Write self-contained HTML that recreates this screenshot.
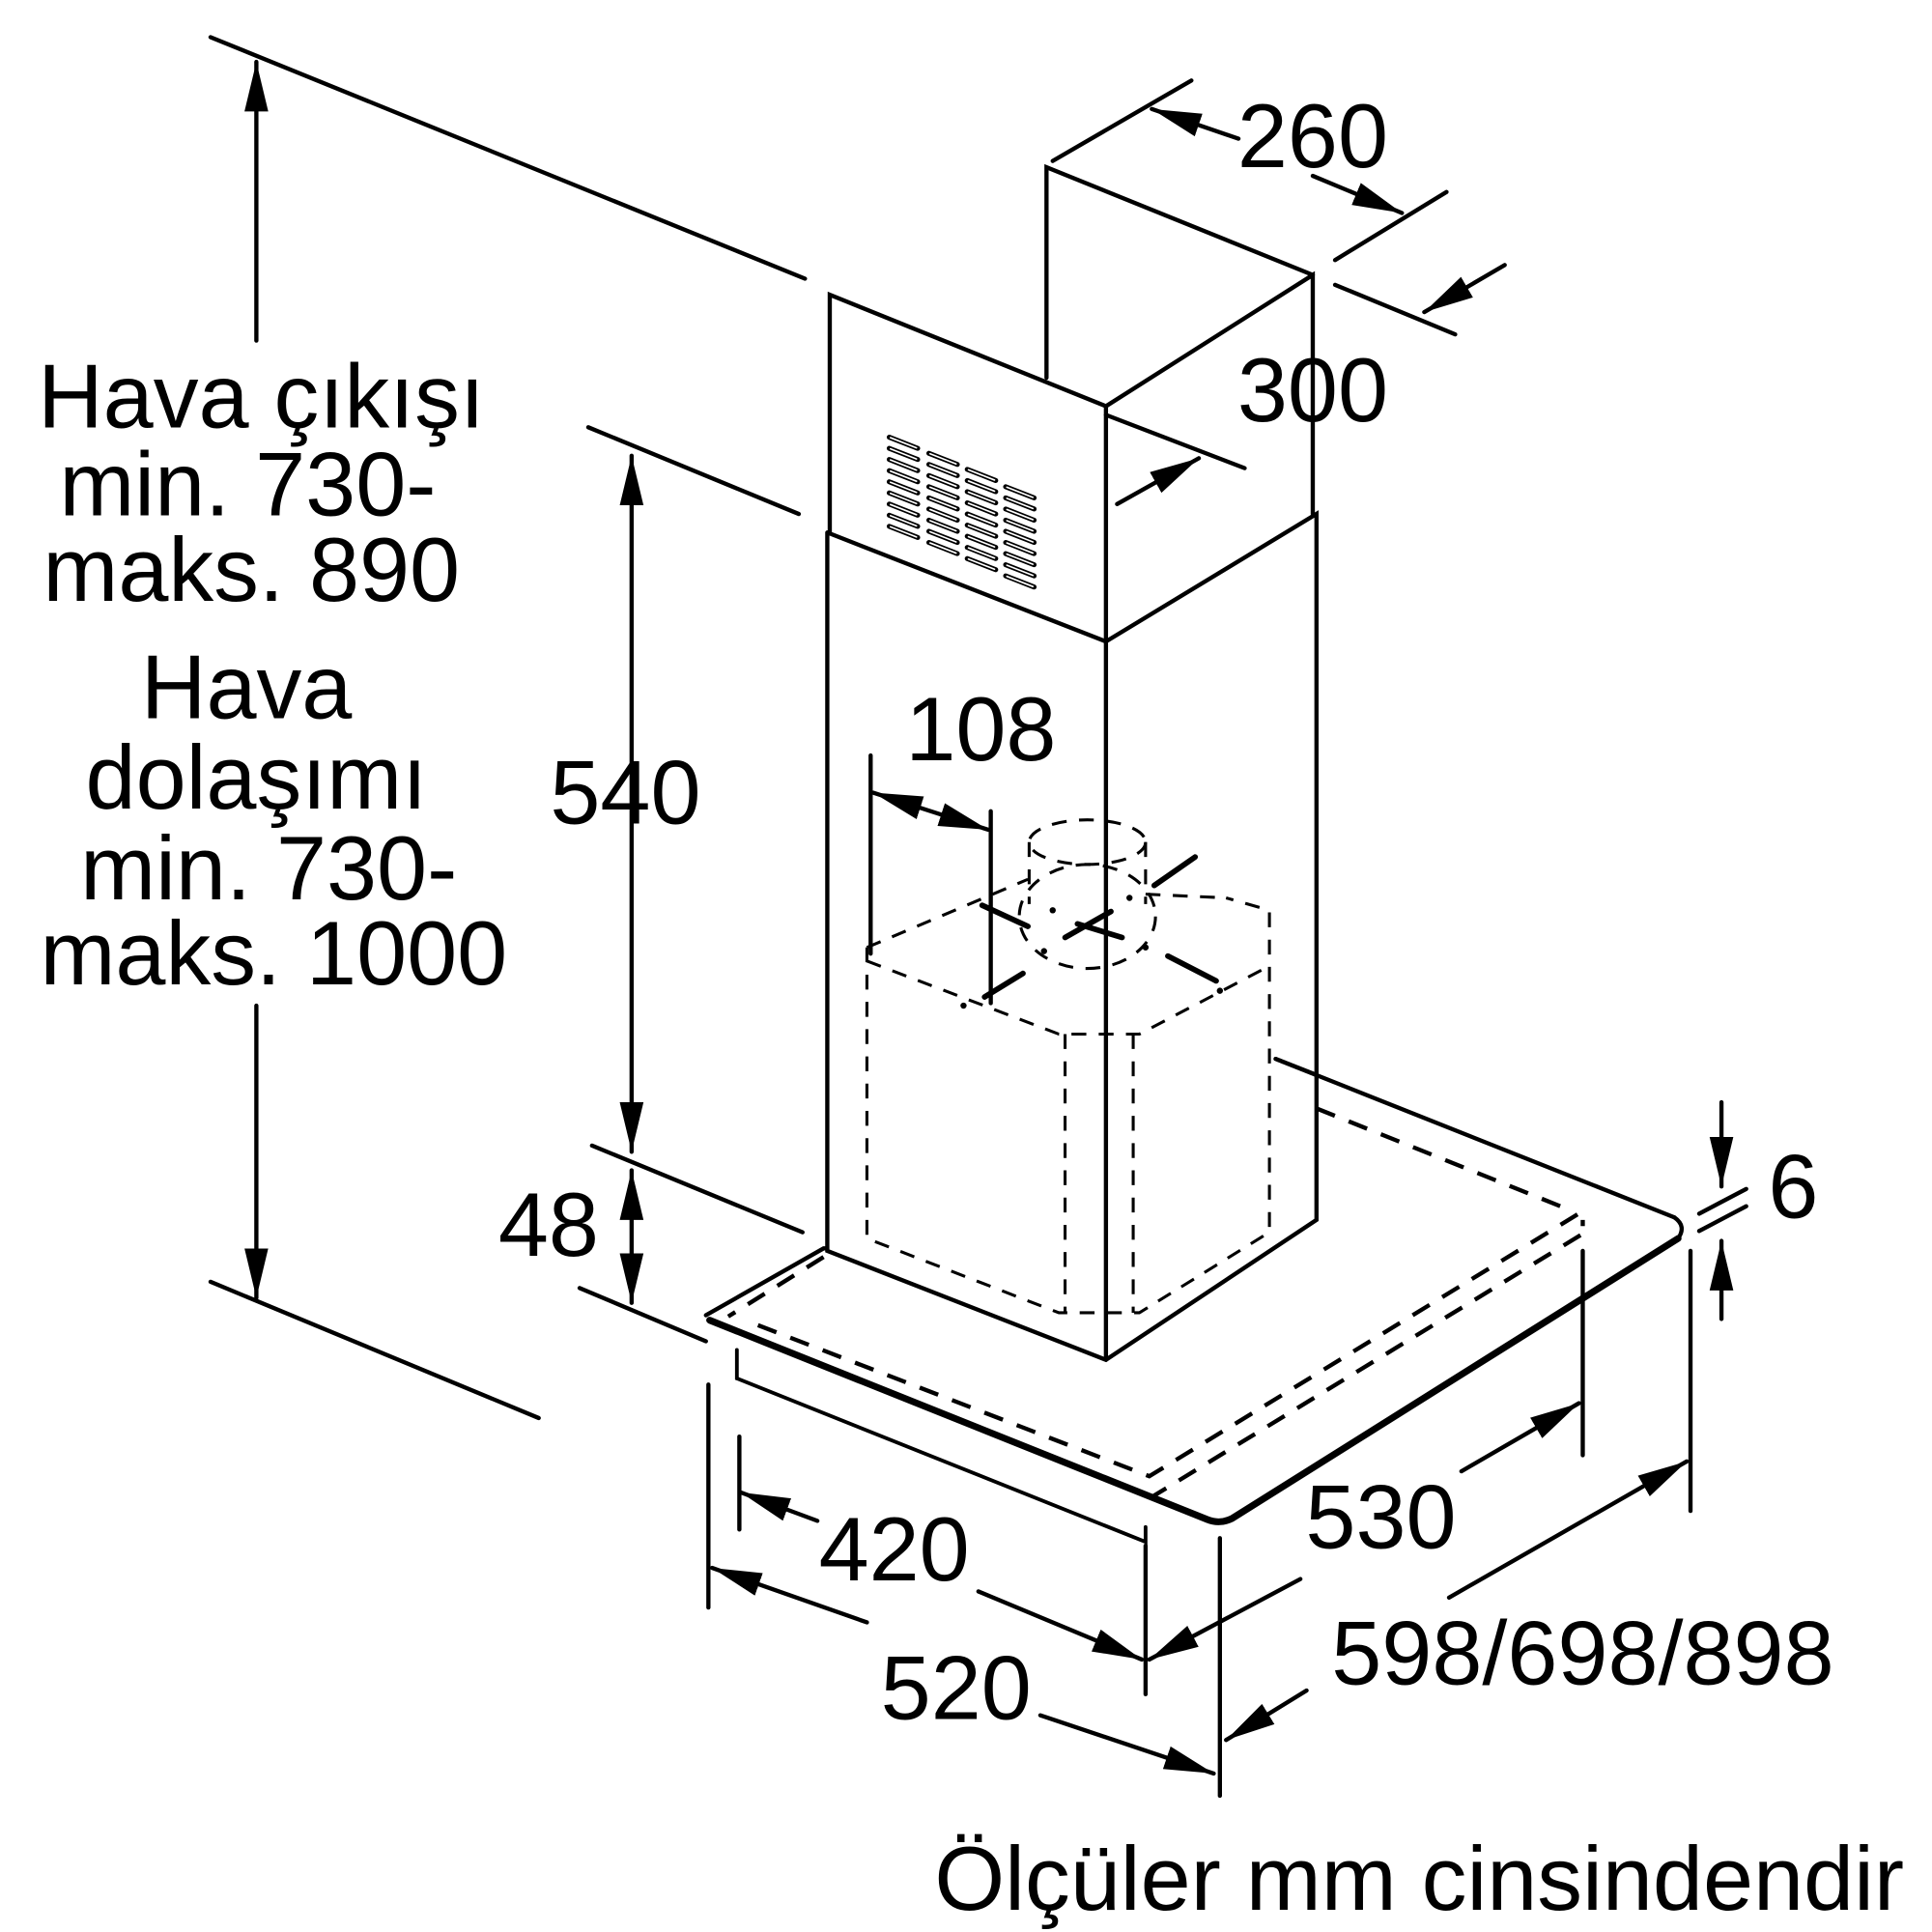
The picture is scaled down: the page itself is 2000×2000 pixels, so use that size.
<!DOCTYPE html>
<html><head><meta charset="utf-8"><style>
html,body{margin:0;padding:0;background:#fff}
svg{display:block}
text{font-family:"Liberation Sans",sans-serif;fill:#000}
</style></head><body>
<svg width="2000" height="2000" viewBox="0 0 1560 1560" xmlns="http://www.w3.org/2000/svg">
<defs>
<marker id="b" viewBox="0 0 10 10" refX="10" refY="5" markerWidth="40" markerHeight="40" markerUnits="userSpaceOnUse" orient="auto-start-reverse"><path d="M0,2.6 L10,5 L0,7.4z"/></marker>
</defs>
<g stroke="#000" stroke-width="3.4" fill="none" stroke-linecap="round">
<line x1="170" y1="30" x2="650" y2="225"/>
<line x1="170" y1="1035" x2="435" y2="1145"/>
<line x1="475" y1="345" x2="645" y2="415"/>
<line x1="478" y1="925" x2="648" y2="995"/>
<line x1="468" y1="1040" x2="570" y2="1083"/>
<line x1="207" y1="50" x2="207" y2="275" marker-start="url(#b)"/>
<line x1="207" y1="812" x2="207" y2="1048" marker-end="url(#b)"/>
<line x1="510" y1="368" x2="510" y2="930" marker-start="url(#b)" marker-end="url(#b)"/>
<line x1="510" y1="945" x2="510" y2="1052" marker-start="url(#b)" marker-end="url(#b)"/>
<polyline points="845,305 845,135 1060,222"/>
<polyline points="670,430 670,238 893,328 1060,222 1060,415"/>
<line x1="893" y1="328" x2="893" y2="1098"/>
<polyline points="668,430 668,1010 893,1098 1063,985 1063,415 893,518 668,430"/>
<polyline points="570,1062 665,1008 668,1008"/>
<line x1="1030" y1="855" x2="1352" y2="983"/>
<path d="M573,1066 L975,1227 Q985,1231 995,1226 L1355,1000" stroke-width="5.5"/>
<path d="M1352,983 Q1362,990 1355,1000"/>
<polyline points="595,1090 595,1113 925,1245 925,1233" stroke-width="3"/>
</g>
<g stroke="#000" stroke-width="3.4" fill="none" stroke-dasharray="16,12">
<polyline points="665,1015 588,1063"/>
<polyline points="612,1070 928,1192 1278,978 1278,990"/>
<polyline points="1063,895 1270,978"/>
<polyline points="928,1210 1280,995"/>
</g>
<g stroke="#000" stroke-width="2.4" fill="none" stroke-dasharray="12,10">
<polyline points="700,765 700,1000 855,1060 920,1060 1025,995 1025,735 990,725"/>
<polyline points="700,776 855,835 920,835 1025,780"/>
<line x1="700" y1="765" x2="830" y2="710"/>
<line x1="860" y1="835" x2="860" y2="1060"/>
<line x1="915" y1="835" x2="915" y2="1060"/>
<line x1="925" y1="722" x2="990" y2="725"/>
<ellipse cx="878" cy="680" rx="47" ry="18"/>
<line x1="831" y1="680" x2="831" y2="730"/>
<line x1="925" y1="680" x2="925" y2="730"/>
<ellipse cx="878" cy="740" rx="55" ry="42"/>
</g>
<g stroke="#000" stroke-width="4.5" stroke-linecap="round">
<line x1="793" y1="731" x2="830" y2="748"/><line x1="932" y1="715" x2="965" y2="692"/>
<line x1="795" y1="805" x2="826" y2="786"/><line x1="943" y1="772" x2="982" y2="792"/>
<line x1="860" y1="757" x2="897" y2="736"/><line x1="870" y1="746" x2="906" y2="757"/>
</g>
<g fill="#000"><circle cx="778" cy="812" r="2.5"/><circle cx="850" cy="735" r="2.5"/><circle cx="843" cy="768" r="2.5"/><circle cx="912" cy="725" r="2.5"/><circle cx="925" cy="765" r="2.5"/><circle cx="985" cy="800" r="2.5"/></g>
<g stroke="#000" stroke-width="4" fill="none" stroke-linecap="round">
<g id="col"><line x1="718" y1="353" x2="741" y2="362"/><line x1="718" y1="362" x2="741" y2="371"/><line x1="718" y1="371" x2="741" y2="380"/><line x1="718" y1="380" x2="741" y2="389"/><line x1="718" y1="389" x2="741" y2="398"/><line x1="718" y1="398" x2="741" y2="407"/><line x1="718" y1="407" x2="741" y2="416"/><line x1="718" y1="416" x2="741" y2="425"/><line x1="718" y1="425" x2="741" y2="434"/></g>
<use href="#col" transform="translate(32,13)"/><use href="#col" transform="translate(63,26)"/><use href="#col" transform="translate(94,40)"/>
</g>
<g stroke="#fff" stroke-width="1.3" fill="none" stroke-linecap="round">
<g id="colw"><line x1="719" y1="353.4" x2="740" y2="361.6"/><line x1="719" y1="362.4" x2="740" y2="370.6"/><line x1="719" y1="371.4" x2="740" y2="379.6"/><line x1="719" y1="380.4" x2="740" y2="388.6"/><line x1="719" y1="389.4" x2="740" y2="397.6"/><line x1="719" y1="398.4" x2="740" y2="406.6"/><line x1="719" y1="407.4" x2="740" y2="415.6"/><line x1="719" y1="416.4" x2="740" y2="424.6"/><line x1="719" y1="425.4" x2="740" y2="433.6"/></g>
<use href="#colw" transform="translate(32,13)"/><use href="#colw" transform="translate(63,26)"/><use href="#colw" transform="translate(94,40)"/>
</g>
<g stroke="#000" stroke-width="3.4" fill="none" stroke-linecap="round">
<line x1="850" y1="130" x2="962" y2="65"/>
<line x1="1078" y1="210" x2="1168" y2="155"/>
<line x1="1000" y1="112" x2="930" y2="88" marker-end="url(#b)"/>
<line x1="1060" y1="142" x2="1132" y2="172" marker-end="url(#b)"/>
<line x1="1078" y1="230" x2="1175" y2="270"/>
<line x1="1215" y1="214" x2="1150" y2="252" marker-end="url(#b)"/>
<line x1="893" y1="335" x2="1005" y2="378"/>
<line x1="902" y1="407" x2="968" y2="370" marker-end="url(#b)"/>
<line x1="703" y1="610" x2="703" y2="770"/>
<line x1="800" y1="655" x2="800" y2="810"/>
<line x1="705" y1="640" x2="798" y2="670" marker-start="url(#b)" marker-end="url(#b)"/>
<line x1="1030" y1="855" x2="1063" y2="868"/>
<line x1="1390" y1="890" x2="1390" y2="958" marker-end="url(#b)"/>
<line x1="1390" y1="1065" x2="1390" y2="1002" marker-end="url(#b)"/>
<line x1="1372" y1="980" x2="1410" y2="960"/>
<line x1="1372" y1="994" x2="1410" y2="974"/>
<line x1="572" y1="1118" x2="572" y2="1298"/>
<line x1="597" y1="1160" x2="597" y2="1235"/>
<line x1="925" y1="1248" x2="925" y2="1368"/>
<line x1="985" y1="1242" x2="985" y2="1450"/>
<line x1="1278" y1="1010" x2="1278" y2="1175"/>
<line x1="1365" y1="1010" x2="1365" y2="1220"/>
<line x1="660" y1="1228" x2="598" y2="1205" marker-end="url(#b)"/>
<line x1="790" y1="1285" x2="922" y2="1340" marker-end="url(#b)"/>
<line x1="700" y1="1310" x2="575" y2="1266" marker-end="url(#b)"/>
<line x1="840" y1="1385" x2="980" y2="1432" marker-end="url(#b)"/>
<line x1="1050" y1="1275" x2="928" y2="1340" marker-end="url(#b)"/>
<line x1="1180" y1="1188" x2="1275" y2="1133" marker-end="url(#b)"/>
<line x1="1055" y1="1365" x2="990" y2="1405" marker-end="url(#b)"/>
<line x1="1170" y1="1290" x2="1362" y2="1180" marker-end="url(#b)"/>
</g>
<g font-size="73">
<text x="1060" y="135" text-anchor="middle">260</text>
<text x="1060" y="340" text-anchor="middle">300</text>
<text x="792" y="614" text-anchor="middle">108</text>
<text x="505" y="665" text-anchor="middle">540</text>
<text x="443" y="1014" text-anchor="middle">48</text>
<text x="1448" y="983" text-anchor="middle">6</text>
<text x="722" y="1276" text-anchor="middle">420</text>
<text x="1115" y="1250" text-anchor="middle">530</text>
<text x="772" y="1388" text-anchor="middle">520</text>
<text x="1278" y="1360" text-anchor="middle">598/698/898</text>
<text x="1146" y="1542" text-anchor="middle">Ölçüler mm cinsindendir</text>
<text x="211" y="345" text-anchor="middle">Hava çıkışı</text>
<text x="200" y="416" text-anchor="middle">min. 730-</text>
<text x="203" y="485" text-anchor="middle">maks. 890</text>
<text x="199" y="580" text-anchor="middle">Hava</text>
<text x="207" y="653" text-anchor="middle">dolaşımı</text>
<text x="217" y="726" text-anchor="middle">min. 730-</text>
<text x="221" y="795" text-anchor="middle">maks. 1000</text>
</g>
</svg>
</body></html>
